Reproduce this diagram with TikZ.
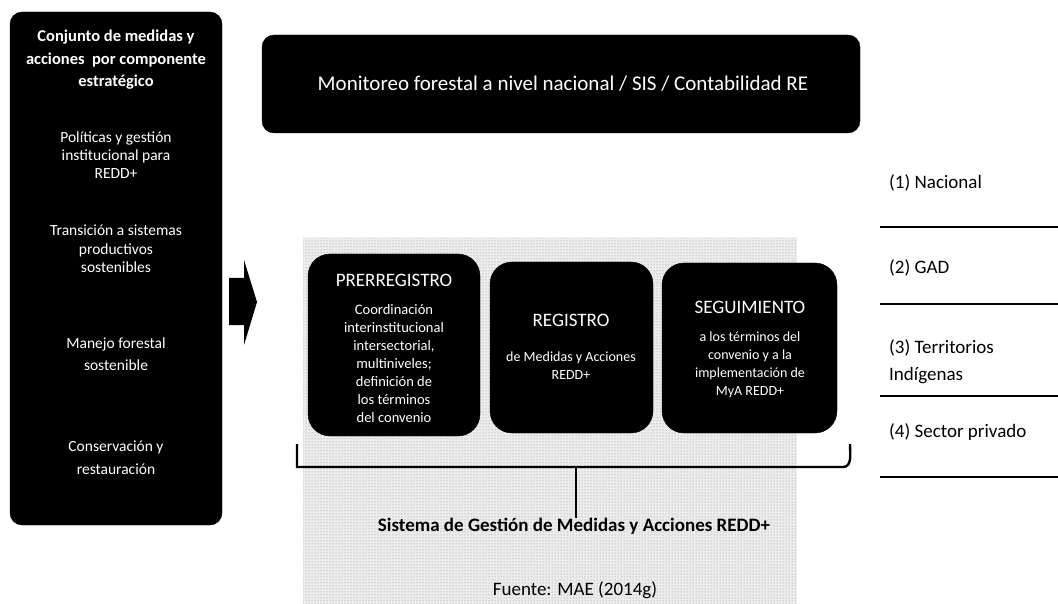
\documentclass[tikz,border=0pt]{standalone}
\usepackage{fontspec}
\setmainfont{Carlito}
\usetikzlibrary{patterns}
\begin{document}
\begin{tikzpicture}[x=1pt,y=-1pt,
  blackbox/.style={fill=black,draw=black,rounded corners=#1},
  blackbox/.default=12pt,
  wtext/.style={text=white,align=center,inner sep=0pt},
  wtitle/.style={text=white,align=center,inner sep=0pt,font=\fontsize{19}{21}\selectfont},
  rlabel/.style={anchor=west,align=left,inner sep=0pt,font=\fontsize{19}{27}\selectfont},
  rline/.style={line width=1.8pt},
  bracestyle/.style={line width=2.4pt}]
\useasboundingbox (0,0) rectangle (1058,604);
% gray halftone area
\fill[black!7] (303,238) rectangle (797,604);
\fill[pattern=dots,pattern color=black!45] (303,238) rectangle (797,604);
% left box
\draw[blackbox] (10,12) rectangle (222,525);
\node[wtext,font=\bfseries\fontsize{16.5}{22.5}\selectfont] (lt) at (116,60) {Conjunto de medidas y\\acciones \ por componente\\estratégico};
\node[wtext,font=\fontsize{15.5}{18}\selectfont] (l1) at (116,155) {Políticas y gestión\\institucional para\\REDD+};
\node[wtext,font=\fontsize{15.5}{18.5}\selectfont] (l2) at (116,249) {Transición a sistemas\\productivos\\sostenibles};
\node[wtext,font=\fontsize{15.5}{22}\selectfont] (l3) at (116,354) {Manejo forestal\\sostenible};
\node[wtext,font=\fontsize{15.5}{23}\selectfont] (l4) at (116,458) {Conservación y\\restauración};
% arrow
\fill (229,278)--(244,278)--(244,260)--(257,302)--(244,345)--(244,325)--(229,325)--cycle;
% top box
\draw[blackbox] (262,35) rectangle (860,133);
\node[text=white,inner sep=0pt,font=\fontsize{21}{24}\selectfont] (top) at (563,84) {Monitoreo forestal a nivel nacional / SIS / Contabilidad RE};
% three boxes
\draw[blackbox=22pt] (308,254) rectangle (480,436);
\node[wtitle] (pret) at (394,280) {PRERREGISTRO};
\node[wtext,font=\fontsize{14.5}{18}\selectfont] (preb) at (394,364) {Coordinación\\interinstitucional\\intersectorial,\\multiniveles;\\definición de\\los términos\\del convenio};
\draw[blackbox=22pt] (490,262) rectangle (653,433);
\node[wtitle] (regt) at (571,320) {REGISTRO};
\node[wtext,font=\fontsize{14}{18}\selectfont] (regb) at (571,366) {de Medidas y Acciones\\REDD+};
\draw[blackbox=22pt] (662,263) rectangle (837,433);
\node[wtitle] (segt) at (750,307) {SEGUIMIENTO};
\node[wtext,font=\fontsize{14}{18}\selectfont] (segb) at (750,365) {a los términos del\\convenio y a la\\implementación de\\MyA REDD+};
% brace
\coordinate (bl) at (297,444);
\coordinate (br) at (850,444);
\coordinate (bm) at (576,467);
\draw[bracestyle] (bl) -- (297,467) -- (843,467) to[out=0,in=-90] (br);
\node[inner sep=0pt,font=\bfseries\fontsize{19}{22}\selectfont] (sis) at (574,526) {Sistema de Gestión de Medidas y Acciones REDD+};
\draw[bracestyle] (bm) -- (sis.north -| bm);
\node[inner sep=0pt,font=\fontsize{19}{22}\selectfont] (fte) at (575,590) {Fuente: MAE (2014g)};
% right labels
\node[rlabel] (r1) at (889,183) {(1) Nacional};
\node[rlabel] (r2) at (889,268) {(2) GAD};
\node[rlabel] (r3) at (889,361.5) {(3) Territorios\\Indígenas};
\node[rlabel] (r4) at (889,432) {(4) Sector privado};
\coordinate (s0) at (880,0);
\coordinate (e1) at (1058,227);
\coordinate (e2) at (1058,304);
\coordinate (e3) at (1058,396);
\coordinate (e4) at (1058,477);
\draw[rline] (s0 |- e1) -- (e1);
\draw[rline] (s0 |- e2) -- (e2);
\draw[rline] (s0 |- e3) -- (e3);
\draw[rline] (s0 |- e4) -- (e4);
\end{tikzpicture}
\end{document}
